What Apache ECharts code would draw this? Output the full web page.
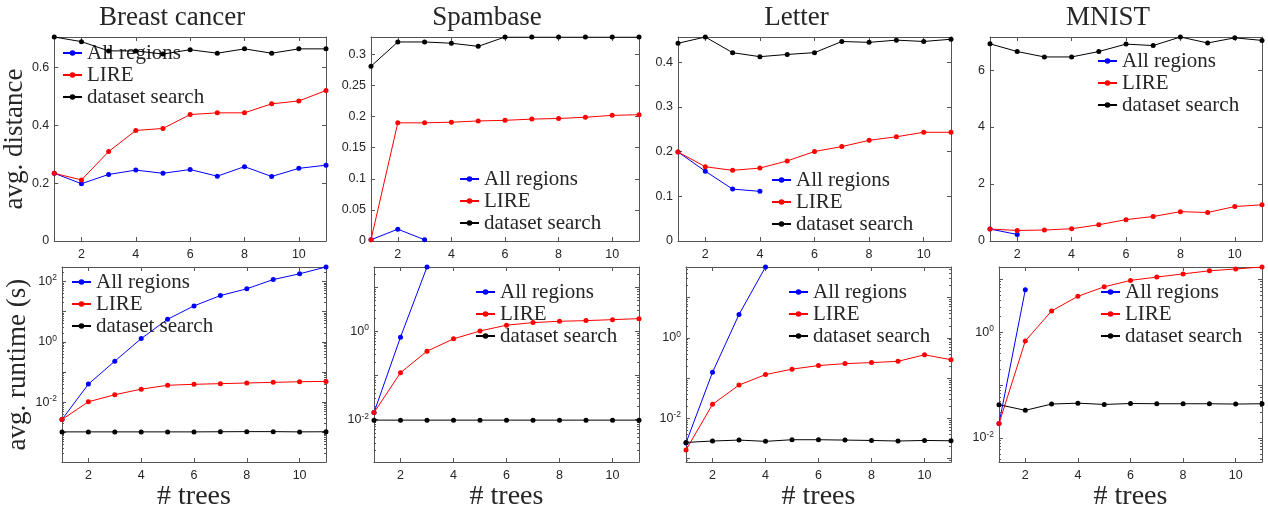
<!DOCTYPE html>
<html>
<head>
<meta charset="utf-8">
<script src="https://cdn.jsdelivr.net/npm/echarts@6/dist/echarts.min.js"></script>
<style>
  html, body { margin: 0; padding: 0; background: #fff; }
  #main { width: 1268px; height: 512px; }
</style>
</head>
<body>
<div id="main"></div>
<script>
// x categories (# trees)
const trees = ['1', '2', '3', '4', '5', '6', '7', '8', '9', '10', '11'];
const datasets = ['Breast cancer', 'Spambase', 'Letter', 'MNIST'];
const seriesNames = ['All regions', 'LIRE', 'dataset search'];

// avg. distance (top row)
const bcDistAll    = [0.234, 0.198, 0.230, 0.245, 0.234, 0.247, 0.224, 0.257, 0.223, 0.251, 0.262];
const bcDistLire   = [0.234, 0.211, 0.309, 0.382, 0.389, 0.437, 0.443, 0.443, 0.474, 0.484, 0.520];
const bcDistSearch = [0.705, 0.689, 0.657, 0.657, 0.646, 0.661, 0.649, 0.664, 0.649, 0.664, 0.664];

const spDistAll    = [0.002, 0.019, 0.002, null, null, null, null, null, null, null, null];
const spDistLire   = [0.002, 0.190, 0.190, 0.191, 0.193, 0.194, 0.196, 0.197, 0.199, 0.202, 0.203];
const spDistSearch = [0.281, 0.320, 0.320, 0.318, 0.313, 0.328, 0.328, 0.328, 0.328, 0.328, 0.328];

const ltDistAll    = [0.199, 0.156, 0.116, 0.111, null, null, null, null, null, null, null];
const ltDistLire   = [0.199, 0.166, 0.158, 0.163, 0.179, 0.200, 0.211, 0.225, 0.233, 0.243, 0.243];
const ltDistSearch = [0.442, 0.456, 0.421, 0.412, 0.417, 0.421, 0.446, 0.444, 0.449, 0.446, 0.451];

const mnDistAll    = [0.42, 0.23, null, null, null, null, null, null, null, null, null];
const mnDistLire   = [0.42, 0.37, 0.385, 0.43, 0.57, 0.75, 0.86, 1.03, 1.00, 1.21, 1.27];
const mnDistSearch = [6.92, 6.65, 6.46, 6.46, 6.65, 6.91, 6.86, 7.16, 6.95, 7.13, 7.04];

// avg. runtime in seconds (bottom row, log scale)
const bcTimeAll    = [0.0027, 0.040, 0.23, 1.28, 5.6, 15.5, 34, 57, 115, 179, 300];
const bcTimeLire   = [0.0027, 0.0104, 0.0178, 0.0272, 0.0366, 0.0394, 0.0414, 0.0435, 0.0457, 0.0479, 0.0492];
const bcTimeSearch = [0.00105, 0.00105, 0.00105, 0.00105, 0.00105, 0.00105, 0.00106, 0.00107, 0.00107, 0.00105, 0.00106];

const spTimeAll    = [0.0145, 0.74, 28.6, null, null, null, null, null, null, null, null];
const spTimeLire   = [0.0145, 0.116, 0.356, 0.677, 1.02, 1.38, 1.58, 1.69, 1.75, 1.84, 1.94];
const spTimeSearch = [0.0098, 0.0098, 0.0098, 0.0098, 0.0098, 0.0098, 0.0098, 0.0098, 0.0098, 0.0098, 0.0098];

const ltTimeAll    = [0.00243, 0.139, 3.83, 58.2, null, null, null, null, null, null, null];
const ltTimeLire   = [0.00162, 0.0222, 0.067, 0.122, 0.167, 0.205, 0.229, 0.243, 0.261, 0.38, 0.286];
const ltTimeSearch = [0.0025, 0.00271, 0.00286, 0.00266, 0.00292, 0.00292, 0.00286, 0.0028, 0.00271, 0.0028, 0.00275];

const mnTimeAll    = [0.0187, 6.3, null, null, null, null, null, null, null, null, null];
const mnTimeLire   = [0.0187, 0.682, 2.51, 4.75, 7.17, 9.5, 10.96, 12.6, 14.4, 15.6, 17.0];
const mnTimeSearch = [0.0425, 0.0333, 0.0437, 0.0455, 0.043, 0.0448, 0.0443, 0.0443, 0.0443, 0.0437, 0.0443];

// y axis ranges
const distStep = [0.2, 0.05, 0.1, 2];
const distMax  = [0.705, 0.328, 0.456, 7.16];
const timeMin  = [1.05e-4, 1.1e-3, 8.1e-4, 3.5e-3];
const timeMax  = [300, 28.6, 58.2, 17.0];

const panelData = [
  [bcDistAll, bcDistLire, bcDistSearch],
  [spDistAll, spDistLire, spDistSearch],
  [ltDistAll, ltDistLire, ltDistSearch],
  [mnDistAll, mnDistLire, mnDistSearch],
  [bcTimeAll, bcTimeLire, bcTimeSearch],
  [spTimeAll, spTimeLire, spTimeSearch],
  [ltTimeAll, ltTimeLire, ltTimeSearch],
  [mnTimeAll, mnTimeLire, mnTimeSearch]
];

// plot boxes, px
const boxes = [
  {left: 53,  top: 37,  width: 273, height: 204},
  {left: 371, top: 37,  width: 268, height: 204},
  {left: 678, top: 37,  width: 273, height: 204},
  {left: 990, top: 37,  width: 272, height: 204},
  {left: 62,  top: 267, width: 264, height: 200},
  {left: 374, top: 267, width: 265, height: 200},
  {left: 686, top: 267, width: 265, height: 200},
  {left: 999, top: 267, width: 263, height: 200}
];
const legendPos = [
  [62, 42], [459, 168], [771, 169], [1097, 50],
  [71, 271], [475, 281], [788, 281], [1100, 281]
];

const colors = ['#0000ff', '#ff0000', '#000000'];
const axisColor = '#555555';
const labelColor = '#262626';
const sans = '"Liberation Sans", Arial, sans-serif';
const serif = '"Liberation Serif", "Times New Roman", serif';

let chart = echarts.init(document.getElementById('main'));

function evenIdx(idx) { return idx % 2 === 1; }

function linFmt(step) {
  return function (v) {
    let k = v / step;
    return Math.abs(k - Math.round(k)) < 1e-6 ? String(+v.toFixed(4)) : '';
  };
}
function logFmt(v) {
  let e = Math.log10(v);
  let r = Math.round(e);
  if (Math.abs(e - r) < 1e-6 && r % 2 === 0) return '{b|10}{s|' + r + '}';
  return '';
}

let grid = [], xAxis = [], yAxis = [], series = [], legend = [];

for (let i = 0; i < 8; i++) {
  let top = i < 4;
  let c = i % 4;
  grid.push(Object.assign({containLabel: false}, boxes[i]));

  let xBase = {
    type: 'category', gridIndex: i, data: trees, boundaryGap: false,
    axisLine: {onZero: false, lineStyle: {color: axisColor, width: 1}},
    axisTick: {inside: true, length: 4, interval: evenIdx, lineStyle: {color: axisColor}},
    splitLine: {show: false}
  };
  // bottom axis with labels
  xAxis.push(Object.assign({}, xBase, {
    position: 'bottom',
    axisLabel: {interval: evenIdx, color: labelColor, fontSize: 12.5, fontFamily: sans, margin: 7},
    name: top ? '' : '# trees', nameLocation: 'middle', nameGap: 15,
    nameTextStyle: {fontFamily: serif, fontSize: 28, color: labelColor}
  }));
  // top mirror axis, carries the panel title (sits a bit left of centre)
  xAxis.push(Object.assign({}, xBase, {
    position: 'top',
    axisLabel: {show: false},
    name: top ? datasets[c] : '', nameLocation: 'middle', nameGap: 6,
    nameTextStyle: {fontFamily: serif, fontSize: 27, color: labelColor, padding: [0, 36, 0, 0]}
  }));

  let yBase;
  if (top) {
    yBase = {
      type: 'value', gridIndex: i, min: 0, max: distMax[c], interval: distStep[c],
      axisLabel: {formatter: linFmt(distStep[c]), color: labelColor, fontSize: 12.5, fontFamily: sans, margin: 5}
    };
  } else {
    yBase = {
      type: 'log', logBase: 10, gridIndex: i, min: timeMin[c], max: timeMax[c],
      minorTick: {show: true, splitNumber: 9, length: 2, lineStyle: {color: axisColor}},
      axisLabel: {
        formatter: logFmt, color: labelColor, fontFamily: sans, margin: 5,
        rich: {
          b: {fontSize: 12.5, fontFamily: sans, color: labelColor, lineHeight: 16},
          s: {fontSize: 8.5, fontFamily: sans, color: labelColor, lineHeight: 8, verticalAlign: 'top'}
        }
      }
    };
  }
  Object.assign(yBase, {
    axisLine: {show: true, onZero: false, lineStyle: {color: axisColor, width: 1}},
    axisTick: {show: true, inside: true, length: 4, lineStyle: {color: axisColor}},
    splitLine: {show: false}
  });
  let yName = '';
  if (i === 0) yName = 'avg. distance';
  if (i === 4) yName = 'avg. runtime (s)';
  yAxis.push(Object.assign({}, yBase, {
    position: 'left', name: yName, nameLocation: 'middle',
    nameGap: i === 0 ? 21 : 28,
    nameTextStyle: {fontFamily: serif, fontSize: 27, color: labelColor}
  }));
  yAxis.push(Object.assign({}, yBase, {
    position: 'right',
    axisLabel: Object.assign({}, yBase.axisLabel, {show: false})
  }));

  for (let s = 0; s < 3; s++) {
    series.push({
      type: 'line', name: seriesNames[s],
      xAxisIndex: 2 * i, yAxisIndex: 2 * i,
      data: panelData[i][s],
      color: colors[s],
      symbol: 'circle', symbolSize: 5, showAllSymbol: true,
      lineStyle: {width: 1, color: colors[s]},
      itemStyle: {color: colors[s]},
      connectNulls: false,
      z: 2 + s
    });
  }

  legend.push({
    data: seriesNames, orient: 'vertical',
    left: legendPos[i][0], top: legendPos[i][1],
    itemWidth: 19, itemHeight: 7, itemGap: 0, padding: 0,
    selectedMode: false,
    textStyle: {fontFamily: serif, fontSize: 21, lineHeight: 22, color: labelColor}
  });
}

let option = {
  backgroundColor: '#ffffff',
  animation: false,
  grid: grid,
  xAxis: xAxis,
  yAxis: yAxis,
  legend: legend,
  series: series
};
chart.setOption(option, true);
</script>
</body>
</html>
